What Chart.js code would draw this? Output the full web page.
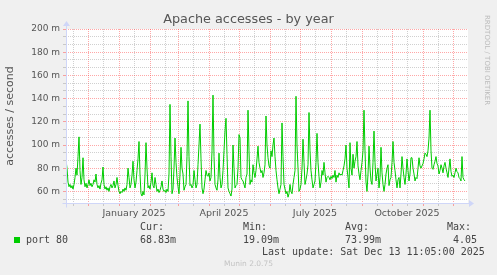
<!DOCTYPE html>
<html>
<head>
<meta charset="utf-8">
<script src="https://cdn.jsdelivr.net/npm/chart.js@4.4.1/dist/chart.umd.min.js"></script>
<style>
  body { margin: 0; background: #f0f0f0; }
  #wrap { position: relative; width: 497px; height: 275px; overflow: hidden; font-family: "DejaVu Sans", sans-serif; color: #555; }
  canvas { position: absolute; left: 0; top: 0; }
  .t { position: absolute; white-space: pre; line-height: 1; }
  .mono { font-family: "DejaVu Sans Mono", monospace; font-size: 10px; color: #444; }
</style>
</head>
<body>
<div id="wrap">
  <canvas id="grafico" width="497" height="275"></canvas>
  <div class="t" style="left:0; width:497px; text-align:center; top:13px; font-size:12.8px;">Apache accesses - by year</div>
  <div class="t" style="left:483px; top:15px; font-size:7px; color:#bbb; writing-mode:vertical-rl;">RRDTOOL / TOBI OETIKER</div>

  <div class="t" style="left:14px; top:237px; width:6px; height:6px; background:#00cc00;"></div>
  <div class="t mono" style="left:26px; top:235px;">port 80</div>
  <div class="t mono" style="left:140px; top:222px;">Cur:</div>
  <div class="t mono" style="left:140px; top:235px;">68.83m</div>
  <div class="t mono" style="left:243px; top:222px;">Min:</div>
  <div class="t mono" style="left:243px; top:235px;">19.09m</div>
  <div class="t mono" style="left:345px; top:222px;">Avg:</div>
  <div class="t mono" style="left:345px; top:235px;">73.99m</div>
  <div class="t mono" style="left:447px; top:222px;">Max:</div>
  <div class="t mono" style="left:453px; top:235px;">4.05</div>
  <div class="t mono" style="left:262px; top:247px;">Last update: Sat Dec 13 11:05:00 2025</div>
  <div class="t" style="left:0; width:497px; text-align:center; top:260px; font-size:7.5px; color:#c4c4c4;">Munin 2.0.75</div>
</div>
<script>
// --- Datos: accesos diarios (m/s), 400 días desde el 9 nov 2024 ---
const accesos = [
  87, 80, 68, 64, 66, 63, 65, 62, 66, 72, 80, 74, 90, 107, 78, 66, 72, 89, 70, 64,
  67, 63, 66, 70, 65, 67, 64, 66, 70, 68, 75, 66, 63, 65, 62, 67, 70, 81, 66, 62,
  64, 61, 63, 60, 64, 66, 63, 65, 69, 63, 66, 72, 65, 60, 58, 60, 59, 62, 60, 63,
  61, 66, 80, 72, 63, 66, 74, 86, 70, 63, 68, 78, 88, 103, 75, 58, 56, 60, 57, 74,
  102, 80, 63, 65, 62, 68, 76, 65, 63, 72, 66, 60, 62, 59, 61, 64, 69, 62, 60, 61,
  59, 62, 60, 75, 135, 90, 58, 62, 80, 106, 85, 72, 64, 58, 75, 98, 80, 75, 61, 64,
  66, 90, 138, 90, 65, 66, 63, 65, 78, 70, 63, 66, 83, 100, 118, 88, 63, 58, 62, 70,
  78, 74, 73, 76, 69, 72, 95, 143, 90, 66, 63, 61, 70, 93, 72, 63, 66, 78, 95, 112,
  123, 92, 63, 60, 58, 56, 62, 100, 80, 63, 65, 66, 80, 109, 106, 72, 70, 69, 66, 63,
  72, 75, 130, 95, 66, 70, 68, 83, 76, 72, 78, 88, 99, 85, 80, 76, 78, 72, 76, 83,
  125, 100, 89, 82, 80, 95, 90, 100, 106, 90, 78, 70, 63, 58, 62, 66, 119, 90, 66, 62,
  58, 60, 55, 58, 66, 60, 58, 66, 72, 78, 142, 100, 80, 60, 62, 66, 80, 105, 85, 66,
  70, 75, 83, 128, 95, 78, 70, 63, 66, 69, 85, 110, 85, 73, 63, 68, 78, 74, 85, 76,
  68, 72, 73, 72, 70, 73, 71, 74, 72, 78, 68, 74, 72, 76, 74, 75, 74, 78, 82, 88,
  100, 80, 72, 63, 102, 80, 74, 92, 80, 86, 90, 103, 82, 75, 70, 78, 85, 95, 130, 95,
  68, 60, 75, 99, 80, 69, 66, 85, 112, 85, 69, 75, 80, 63, 72, 98, 76, 66, 60, 66,
  75, 80, 83, 65, 70, 72, 85, 103, 85, 78, 70, 63, 70, 72, 63, 75, 90, 80, 72, 66,
  75, 88, 78, 69, 75, 89, 89, 80, 75, 69, 72, 71, 80, 89, 82, 80, 82, 84, 88, 93,
  92, 90, 95, 106, 130, 95, 80, 79, 83, 86, 90, 84, 82, 75, 78, 83, 80, 76, 82, 85,
  80, 76, 72, 80, 88, 77, 73, 74, 72, 76, 80, 77, 76, 72, 71, 69, 90, 72, 70, 69
];

// --- Ejes ---
const yEtiquetas = [60, 80, 100, 120, 140, 160, 180, 200];   // líneas rojas, en m
const inicioMes = [22, 53, 84, 112, 143, 173, 204, 234, 265, 296, 326, 357, 387]; // día 1 de cada mes
const medioMes = [7, 37, 68, 99, 127, 158, 188, 219, 249, 280, 311, 341, 372];     // día 16
const xEtiquetas = ["January 2025", "April 2025", "July 2025", "October 2025"];
const xEtiquetaDias = [68, 158, 249, 341];

const ROJO = "rgba(255, 60, 60, 0.45)";
const GRIS = "rgba(150, 150, 150, 0.45)";
const EJE = "#cfd6f8";

const esMayor = v => yEtiquetas.some(e => Math.abs(e - v) < 0.01);

// fondo blanco del área y ejes con flechas
const lienzo = {
  id: "lienzo",
  beforeDraw(chart) {
    const { ctx, chartArea: a } = chart;
    ctx.save();
    ctx.fillStyle = "#ffffff";
    ctx.fillRect(a.left, a.top, a.right - a.left, a.bottom - a.top);
    ctx.restore();
  },
  afterDatasetsDraw(chart) {
    const { ctx, chartArea: a } = chart;
    const x0 = Math.round(a.left) + 0.5;
    const y0 = Math.round(a.bottom) + 0.5;
    ctx.save();
    ctx.strokeStyle = EJE;
    ctx.fillStyle = EJE;
    ctx.lineWidth = 1;
    ctx.beginPath();
    ctx.moveTo(x0 - 4, y0); ctx.lineTo(a.right + 2, y0);
    ctx.moveTo(x0, y0 + 4); ctx.lineTo(x0, a.top - 4);
    ctx.stroke();
    ctx.beginPath();
    ctx.moveTo(a.right + 1, y0 - 3.5); ctx.lineTo(a.right + 6, y0); ctx.lineTo(a.right + 1, y0 + 3.5);
    ctx.closePath(); ctx.fill();
    ctx.beginPath();
    ctx.moveTo(x0 - 3.5, a.top - 3); ctx.lineTo(x0, a.top - 8); ctx.lineTo(x0 + 3.5, a.top - 3);
    ctx.closePath(); ctx.fill();
    ctx.restore();
  }
};

const ctx = document.getElementById("grafico").getContext("2d");
new Chart(ctx, {
  type: "line",
  data: {
    datasets: [{
      label: "port 80",
      data: accesos.map((v, i) => ({ x: i, y: v })),
      borderColor: "#00cc00",
      borderWidth: 1,
      pointRadius: 0,
      tension: 0
    }]
  },
  options: {
    responsive: false,
    devicePixelRatio: 1,
    animation: false,
    layout: { padding: { left: 0, top: 29, right: 29, bottom: 0 } },
    plugins: { legend: { display: false }, tooltip: { enabled: false } },
    scales: {
      x: {
        type: "linear",
        min: 0,
        max: 402,
        afterBuildTicks: s => {
          s.ticks = [...inicioMes, ...medioMes].sort((a, b) => a - b).map(v => ({ value: v }));
        },
        afterFit: s => { s.height = 72; },
        grid: {
          color: c => inicioMes.includes(c.tick.value) ? ROJO : GRIS,
          tickLength: 3
        },
        border: { display: false, dash: [1, 1] },
        ticks: {
          autoSkip: false,
          maxRotation: 0,
          padding: 2,
          color: "#555",
          font: { family: "DejaVu Sans", size: 9.5 },
          callback: v => {
            const i = xEtiquetaDias.indexOf(v);
            return i >= 0 ? xEtiquetas[i] : "";
          }
        }
      },
      y: {
        min: 50,
        max: 200,
        afterBuildTicks: s => {
          const t = [];
          for (let i = 0; i < 23; i++) t.push({ value: 200 - i * 20 / 3 });
          s.ticks = t.reverse();
        },
        afterFit: s => { s.width = 66; },
        grid: {
          color: c => esMayor(c.tick.value) ? ROJO : GRIS,
          tickLength: 3
        },
        border: { display: false, dash: [1, 1] },
        ticks: {
          autoSkip: false,
          padding: 3,
          color: "#555",
          font: { family: "DejaVu Sans", size: 9 },
          callback: v => esMayor(v) ? Math.round(v) + " m" : ""
        },
        title: {
          display: true,
          text: "accesses / second",
          color: "#555",
          font: { family: "DejaVu Sans", size: 11 },
          padding: { top: 4, bottom: 0 }
        }
      }
    }
  },
  plugins: [lienzo]
});
</script>
</body>
</html>
